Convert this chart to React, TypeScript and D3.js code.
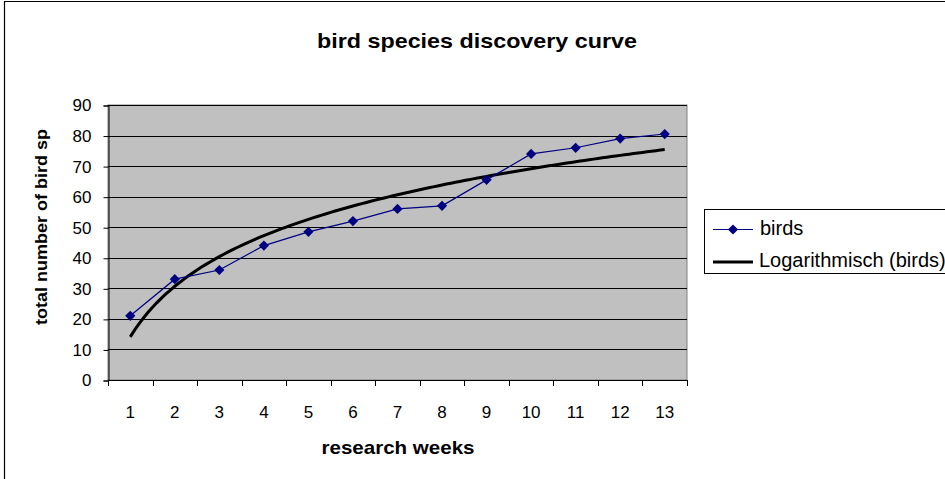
import { useEffect, useRef } from "react";
import * as d3 from "d3";

// research weeks on the x axis
const weeks = ["1", "2", "3", "4", "5", "6", "7", "8", "9", "10", "11", "12", "13"];
// cumulative bird species counted per week
const birds = [21, 33, 36, 44, 48.5, 52, 56, 57, 65.5, 74, 76, 79, 80.5];
const yTicks = [0, 10, 20, 30, 40, 50, 60, 70, 80, 90];

const W = 945;
const H = 479;
const FONT = "'Liberation Sans', Arial, sans-serif";

export default function App() {
  const ref = useRef<SVGSVGElement>(null);

  useEffect(() => {
    document.body.style.margin = "0";
    const svg = d3.select(ref.current);
    svg.selectAll("*").remove();

    const plot = { left: 108, top: 105, right: 687, bottom: 380 };

    // outer chart frame (right/bottom edges run off the picture)
    svg.append("rect").attr("width", W).attr("height", H).attr("fill", "white");
    svg
      .append("path")
      .attr("d", `M4.5,${H} V1.5 H${W}`)
      .attr("fill", "none")
      .attr("stroke", "black")
      .attr("stroke-width", 1.2);

    svg
      .append("text")
      .attr("x", 477)
      .attr("y", 48)
      .attr("text-anchor", "middle")
      .attr("font-family", FONT)
      .attr("font-weight", "bold")
      .attr("font-size", 21)
      .attr("textLength", 320)
      .attr("lengthAdjust", "spacingAndGlyphs")
      .text("bird species discovery curve");

    const x = d3.scaleBand().domain(weeks).range([plot.left, plot.right]);
    const y = d3.scaleLinear().domain([0, 90]).range([plot.bottom, plot.top]);

    // plot area
    svg
      .append("rect")
      .attr("x", plot.left)
      .attr("y", plot.top)
      .attr("width", plot.right - plot.left)
      .attr("height", plot.bottom - plot.top)
      .attr("fill", "#c0c0c0")
      .attr("stroke", "#808080");

    // gridlines
    svg
      .append("g")
      .selectAll("line")
      .data(yTicks.slice(1))
      .join("line")
      .attr("x1", plot.left)
      .attr("x2", plot.right)
      .attr("y1", (d) => Math.round(y(d)) + 0.5)
      .attr("y2", (d) => Math.round(y(d)) + 0.5)
      .attr("stroke", "black");

    // y axis
    const yAxis = svg
      .append("g")
      .attr("transform", `translate(${plot.left + 0.5},0.5)`)
      .call(d3.axisLeft(y).tickValues(yTicks).tickSize(5).tickPadding(12));
    yAxis.select(".domain").attr("stroke", "black");
    yAxis
      .selectAll("text")
      .attr("font-family", FONT)
      .attr("font-size", 17)
      .attr("fill", "black");

    // x axis: ticks between categories
    const xg = svg.append("g");
    xg.append("line")
      .attr("x1", plot.left)
      .attr("x2", plot.right + 1)
      .attr("y1", plot.bottom + 0.5)
      .attr("y2", plot.bottom + 0.5)
      .attr("stroke", "black");
    const bounds = weeks.map((w) => x(w) as number).concat([plot.right]);
    xg.selectAll("line.tick")
      .data(bounds)
      .join("line")
      .attr("class", "tick")
      .attr("x1", (d) => Math.round(d) + 0.5)
      .attr("x2", (d) => Math.round(d) + 0.5)
      .attr("y1", plot.bottom)
      .attr("y2", plot.bottom + 6)
      .attr("stroke", "black");
    xg.selectAll("text")
      .data(weeks)
      .join("text")
      .attr("x", (d) => (x(d) as number) + x.bandwidth() / 2)
      .attr("y", 418)
      .attr("text-anchor", "middle")
      .attr("font-family", FONT)
      .attr("font-size", 17)
      .text((d) => d);

    // axis titles
    svg
      .append("text")
      .attr("x", 398)
      .attr("y", 454)
      .attr("text-anchor", "middle")
      .attr("font-family", FONT)
      .attr("font-weight", "bold")
      .attr("font-size", 19)
      .attr("textLength", 153)
      .attr("lengthAdjust", "spacingAndGlyphs")
      .text("research weeks");

    svg
      .append("text")
      .attr("transform", `translate(47,227) rotate(-90)`)
      .attr("text-anchor", "middle")
      .attr("font-family", FONT)
      .attr("font-weight", "bold")
      .attr("font-size", 17)
      .attr("textLength", 196)
      .attr("lengthAdjust", "spacingAndGlyphs")
      .text("total number of bird sp");

    // logarithmic trendline: least squares fit of birds against ln(week)
    const lx = weeks.map((w) => Math.log(+w));
    const mx = d3.mean(lx) as number;
    const my = d3.mean(birds) as number;
    const b =
      d3.sum(lx, (v, i) => (v - mx) * (birds[i] - my)) /
      d3.sum(lx, (v) => (v - mx) * (v - mx));
    const a = my - b * mx;
    const cx = (w: number) =>
      (x("1") as number) + x.bandwidth() / 2 + (w - 1) * x.step();
    const trendPts = d3
      .range(1, 13.001, 0.1)
      .map((w) => [cx(w), y(a + b * Math.log(w))] as [number, number]);
    svg
      .append("path")
      .attr("d", d3.line()(trendPts))
      .attr("fill", "none")
      .attr("stroke", "black")
      .attr("stroke-width", 3);

    // birds series
    const pts = weeks.map(
      (w, i) => [(x(w) as number) + x.bandwidth() / 2, y(birds[i])] as [number, number]
    );
    svg
      .append("path")
      .attr("d", d3.line()(pts))
      .attr("fill", "none")
      .attr("stroke", "#000080")
      .attr("stroke-width", 1.2);
    const diamond = d3.symbol(d3.symbolSquare, 52)();
    svg
      .append("g")
      .selectAll("path")
      .data(pts)
      .join("path")
      .attr("d", diamond)
      .attr("transform", (d) => `translate(${d[0]},${d[1]}) rotate(45)`)
      .attr("fill", "#000080");

    // legend
    const lg = svg.append("g");
    lg.append("rect")
      .attr("x", 704.5)
      .attr("y", 209.5)
      .attr("width", 260)
      .attr("height", 64)
      .attr("fill", "white")
      .attr("stroke", "black");
    lg.append("line")
      .attr("x1", 713)
      .attr("x2", 753)
      .attr("y1", 229.5)
      .attr("y2", 229.5)
      .attr("stroke", "#000080")
      .attr("stroke-width", 1.2);
    lg.append("path")
      .attr("d", diamond)
      .attr("transform", "translate(733,229.5) rotate(45)")
      .attr("fill", "#000080");
    lg.append("text")
      .attr("x", 760)
      .attr("y", 234.5)
      .attr("font-family", FONT)
      .attr("font-size", 20)
      .text("birds");
    lg.append("line")
      .attr("x1", 713)
      .attr("x2", 753)
      .attr("y1", 262)
      .attr("y2", 262)
      .attr("stroke", "black")
      .attr("stroke-width", 3);
    lg.append("text")
      .attr("x", 759)
      .attr("y", 267)
      .attr("font-family", FONT)
      .attr("font-size", 20)
      .text("Logarithmisch (birds)");
  }, []);

  return <svg ref={ref} width={W} height={H} style={{ display: "block" }} />;
}
